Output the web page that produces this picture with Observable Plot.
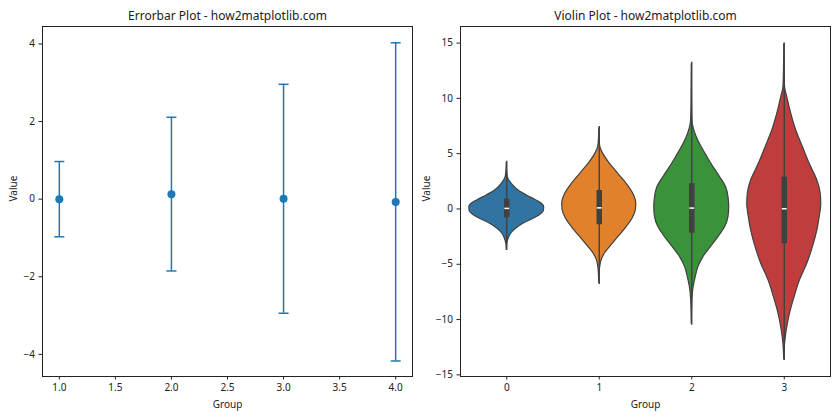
<!DOCTYPE html>
<html>
<head>
<meta charset="utf-8">
<script src="https://cdn.jsdelivr.net/npm/d3@7"></script>
<script src="https://cdn.jsdelivr.net/npm/@observablehq/plot@0.6"></script>
<style>
  html, body { margin: 0; padding: 0; background: white; }
  #wrap { display: flex; width: 840px; height: 420px; }
</style>
</head>
<body>
<div id="wrap"></div>
<script>
// ---------- Errorbar panel data ----------
const errGroups = [1, 2, 3, 4];
const errMeans = [0.0, 0.13, 0.01, -0.07];
const errSizes = [0.97, 1.98, 2.95, 4.10];
const errXTicks = [1.0, 1.5, 2.0, 2.5, 3.0, 3.5, 4.0];
const errYTicks = [-4, -2, 0, 2, 4];

// ---------- Violin panel data ----------
const violinGroups = [0, 1, 2, 3];
const violinColors = ["#3274a1", "#e1812c", "#3a923a", "#c03d3e"];
// density profiles: [value, half-width]
const violin0 = [[4.2,0],[3.4,0.004],[2.87,0.012],[2.27,0.054],[1.67,0.127],[1.22,0.217],[0.83,0.307],[0.47,0.38],[0.16,0.405],[-0.2,0.40],[-0.59,0.354],[-0.89,0.289],[-1.34,0.18],[-1.79,0.10],[-2.24,0.047],[-2.69,0.02],[-3.2,0.004],[-3.7,0]];
const violin1 = [[7.3,0],[6.2,0.004],[5.6,0.012],[4.98,0.043],[4.08,0.116],[3.18,0.206],[2.28,0.296],[1.37,0.368],[0.47,0.40],[-0.14,0.395],[-0.74,0.368],[-1.64,0.296],[-2.55,0.206],[-3.45,0.116],[-4.05,0.06],[-4.65,0.025],[-5.26,0.01],[-6.0,0.003],[-6.7,0]];
const violin2 = [[13.1,0],[9.5,0.003],[8.0,0.007],[7.39,0.018],[6.49,0.054],[5.58,0.108],[4.68,0.17],[3.78,0.235],[2.87,0.307],[1.97,0.372],[1.07,0.397],[0.16,0.405],[-0.74,0.397],[-1.64,0.361],[-2.55,0.289],[-3.45,0.206],[-4.35,0.126],[-5.26,0.072],[-6.16,0.043],[-7.06,0.02],[-8.27,0.006],[-9.5,0.002],[-10.4,0]];
const violin3 = [[14.9,0],[12.5,0.003],[11.0,0.009],[10.1,0.033],[8.6,0.076],[7.09,0.13],[5.58,0.202],[4.08,0.275],[2.57,0.358],[1.37,0.394],[0.47,0.40],[-0.74,0.383],[-1.94,0.358],[-3.45,0.31],[-4.95,0.249],[-6.46,0.17],[-7.97,0.112],[-9.47,0.062],[-10.98,0.027],[-12.18,0.009],[-13.0,0.003],[-13.6,0]];
const violinProfiles = [violin0, violin1, violin2, violin3];
const boxQ1 = [-0.80, -1.43, -2.19, -3.14];
const boxQ3 = [0.89, 1.67, 2.28, 2.87];
const boxMedian = [0.05, 0.10, 0.08, 0.02];
const whiskerLo = [-3.75, -6.82, -10.52, -13.7];
const whiskerHi = [4.32, 7.45, 13.26, 15.0];
const violinXTicks = [0, 1, 2, 3];
const violinYTicks = [-15, -10, -5, 0, 5, 10, 15];

// ---------- helpers ----------
const hline = {
  draw(ctx, size) {
    const r = Math.sqrt(size / Math.PI);
    ctx.moveTo(-r, 0);
    ctx.lineTo(r, 0);
  }
};
const ink = "#222";
const font = "'Noto Sans', 'Open Sans', sans-serif";
const blue = "#1f77b4";
const fmtInt = d3.format("d");

// ---------- Errorbar plot ----------
const errData = errGroups.map((g, i) => ({group: g, mean: errMeans[i], err: errSizes[i]}));

const left = Plot.plot({
  width: 420, height: 420,
  marginTop: 26, marginBottom: 44, marginLeft: 42, marginRight: 8,
  style: {fontFamily: font, fontSize: "10px", color: ink, background: "white", overflow: "visible"},
  x: {domain: [0.85, 4.15]},
  y: {domain: [-4.57, 4.45]},
  marks: [
    Plot.axisX({ticks: errXTicks, tickFormat: d3.format(".1f"), tickSize: 3.5, tickPadding: 4, label: null}),
    Plot.axisY({ticks: errYTicks, tickFormat: fmtInt, tickSize: 3.5, tickPadding: 4, label: null}),
    Plot.ruleX(errData, {x: "group", y1: d => d.mean - d.err, y2: d => d.mean + d.err, stroke: blue, strokeWidth: 1.5}),
    Plot.dot(errData, {x: "group", y: d => d.mean - d.err, symbol: hline, r: 5, stroke: blue, strokeWidth: 1.5}),
    Plot.dot(errData, {x: "group", y: d => d.mean + d.err, symbol: hline, r: 5, stroke: blue, strokeWidth: 1.5}),
    Plot.dot(errData, {x: "group", y: "mean", r: 4, fill: blue}),
    Plot.frame({stroke: ink, strokeWidth: 1}),
    Plot.text(["Errorbar Plot - how2matplotlib.com"], {frameAnchor: "top", dy: -10, lineAnchor: "middle", fontSize: 12, fill: ink}),
    Plot.text(["Value"], {frameAnchor: "left", dx: -29, rotate: -90, lineAnchor: "middle", fill: ink}),
    Plot.text(["Group"], {frameAnchor: "bottom", dy: 28, lineAnchor: "middle", fill: ink})
  ]
});

// ---------- Violin plot ----------
const boxData = violinGroups.map((g, i) => ({group: g, q1: boxQ1[i], q3: boxQ3[i], med: boxMedian[i], lo: whiskerLo[i], hi: whiskerHi[i]}));
const violinMarks = violinGroups.map((g, i) =>
  Plot.areaX(violinProfiles[i], {
    y: d => d[0], x1: d => g - d[1], x2: d => g + d[1],
    fill: violinColors[i], stroke: "#404040", strokeWidth: 1.2, curve: "monotone-y"
  })
);

const right = Plot.plot({
  width: 420, height: 420,
  marginTop: 26, marginBottom: 44, marginLeft: 40, marginRight: 10,
  style: {fontFamily: font, fontSize: "10px", color: ink, background: "white", overflow: "visible"},
  x: {domain: [-0.5, 3.5]},
  y: {domain: [-15.15, 16.5]},
  marks: [
    Plot.axisX({ticks: violinXTicks, tickFormat: fmtInt, tickSize: 3.5, tickPadding: 4, label: null}),
    Plot.axisY({ticks: violinYTicks, tickFormat: fmtInt, tickSize: 3.5, tickPadding: 4, label: null}),
    ...violinMarks,
    Plot.ruleX(boxData, {x: "group", y1: "lo", y2: "hi", stroke: "#404040", strokeWidth: 1.4}),
    Plot.ruleX(boxData, {x: "group", y1: "q1", y2: "q3", stroke: "#404040", strokeWidth: 5.5}),
    Plot.dot(boxData, {x: "group", y: "med", symbol: hline, r: 2.4, stroke: "white", strokeWidth: 1.5}),
    Plot.frame({stroke: ink, strokeWidth: 1}),
    Plot.text(["Violin Plot - how2matplotlib.com"], {frameAnchor: "top", dy: -10, lineAnchor: "middle", fontSize: 12, fill: ink}),
    Plot.text(["Value"], {frameAnchor: "left", dx: -33.5, rotate: -90, lineAnchor: "middle", fill: ink}),
    Plot.text(["Group"], {frameAnchor: "bottom", dy: 28, lineAnchor: "middle", fill: ink})
  ]
});

const wrap = document.getElementById("wrap");
wrap.appendChild(left);
wrap.appendChild(right);
</script>
</body>
</html>
